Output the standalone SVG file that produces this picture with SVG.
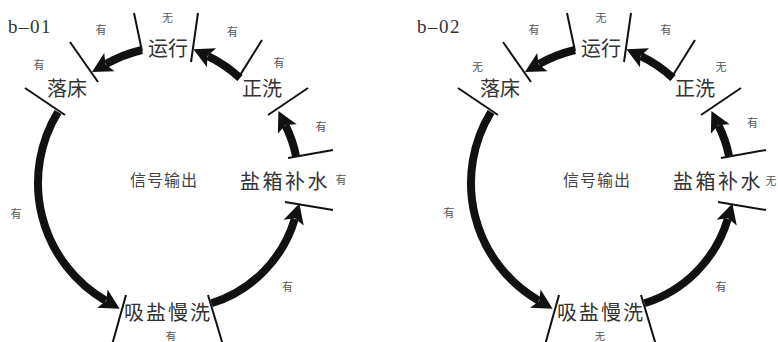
<svg xmlns="http://www.w3.org/2000/svg" width="778" height="342" viewBox="0 0 778 342">
<style>
.bg{fill:#ffffff}
.tick{stroke:#111;stroke-width:2;fill:none;stroke-linecap:butt}
.arc{stroke:#111;stroke-width:8;fill:none;marker-end:url(#ah)}
.node{font-family:"Noto Sans CJK SC","Noto Sans CJK TC",sans-serif;font-size:20px;fill:#333}
.center{font-family:"Noto Sans CJK SC",sans-serif;font-size:16px;fill:#444;letter-spacing:1px}
.sig{font-family:"Noto Sans CJK SC",sans-serif;font-size:11px;fill:#555;text-anchor:middle}
.sig.low{font-size:10.5px}
.title{font-family:"Liberation Serif",serif;font-size:19px;fill:#333;letter-spacing:1.5px}
</style>
<defs>
<marker id="ah" markerUnits="userSpaceOnUse" markerWidth="30" markerHeight="26" viewBox="0 -13 30 26" refX="4" refY="0" orient="auto" overflow="visible">
<path d="M0,-10.5 L20,0 L0,10.5 L4.5,0 Z" fill="#111"/>
</marker>
</defs>
<rect class="bg" x="0" y="0" width="778" height="342"/>

<!-- Diagram b-01 -->
<g id="diagram-b01">
<text class="title" x="8" y="33">b–01</text>
<g id="b01-luochuang">
<line class="tick" x1="25" y1="88" x2="65" y2="115"/>
<line class="tick" x1="70" y1="42" x2="98" y2="82"/>
<text class="node" x="47" y="96">落床</text>
</g>
<g id="b01-yunxing">
<line class="tick" x1="134" y1="13" x2="142" y2="51"/>
<line class="tick" x1="198" y1="13" x2="191" y2="62"/>
<text class="node" x="148" y="56">运行</text>
</g>
<g id="b01-zhengxi">
<line class="tick" x1="262" y1="40" x2="237" y2="80"/>
<line class="tick" x1="308" y1="88" x2="268" y2="115"/>
<text class="node" x="242" y="96">正洗</text>
</g>
<g id="b01-yanxiang">
<line class="tick" x1="333" y1="150" x2="288" y2="158"/>
<line class="tick" x1="285" y1="202" x2="333" y2="210"/>
<text class="node" x="240" y="189" style="letter-spacing:2.5px">盐箱补水</text>
</g>
<g id="b01-xiyan">
<line class="tick" x1="126" y1="295" x2="112" y2="345"/>
<line class="tick" x1="208" y1="295" x2="223" y2="345"/>
<text class="node" x="124" y="320" style="letter-spacing:2px">吸盐慢洗</text>
</g>
<g id="b01-signal">
<text class="center" x="130" y="186">信号输出</text>
</g>
<g id="b01-connectors">
<path class="arc" d="M142,50 A137,137 0 0 0 105.9,64.1"/>
<path class="arc" d="M240,78 A130,130 0 0 0 207.9,56.1"/>
<path class="arc" d="M296,156 A125.5,125.5 0 0 0 285.5,125.4"/>
<path class="arc" d="M211.5,303.3 A126,126 0 0 0 294.8,218.8"/>
<path class="arc" d="M58,112 A136,136 0 0 0 105.8,300.7"/>
</g>
<g id="b01-labels">
<text class="sig" x="101" y="34">有</text>
<text class="sig" x="167.5" y="22">无</text>
<text class="sig" x="232.5" y="36">有</text>
<text class="sig" x="279" y="67">有</text>
<text class="sig" x="321" y="131">有</text>
<text class="sig" x="341" y="184">有</text>
<text class="sig" x="39" y="69">有</text>
<text class="sig" x="16" y="218">有</text>
<text class="sig" x="287.5" y="291">有</text>
<text class="sig low" x="171" y="339.5">有</text>
</g>
</g>

<!-- Diagram b-02 -->
<g id="diagram-b02">
<text class="title" x="417" y="33">b–02</text>
<g transform="translate(433,0)">
<g id="b02-luochuang">
<line class="tick" x1="25" y1="88" x2="65" y2="115"/>
<line class="tick" x1="70" y1="42" x2="98" y2="82"/>
<text class="node" x="47" y="96">落床</text>
</g>
<g id="b02-yunxing">
<line class="tick" x1="134" y1="13" x2="142" y2="51"/>
<line class="tick" x1="198" y1="13" x2="191" y2="62"/>
<text class="node" x="148" y="56">运行</text>
</g>
<g id="b02-zhengxi">
<line class="tick" x1="262" y1="40" x2="237" y2="80"/>
<line class="tick" x1="308" y1="88" x2="268" y2="115"/>
<text class="node" x="242" y="96">正洗</text>
</g>
<g id="b02-yanxiang">
<line class="tick" x1="333" y1="150" x2="288" y2="158"/>
<line class="tick" x1="285" y1="202" x2="333" y2="210"/>
<text class="node" x="240" y="189" style="letter-spacing:2.5px">盐箱补水</text>
</g>
<g id="b02-xiyan">
<line class="tick" x1="126" y1="295" x2="112" y2="345"/>
<line class="tick" x1="208" y1="295" x2="223" y2="345"/>
<text class="node" x="124" y="320" style="letter-spacing:2px">吸盐慢洗</text>
</g>
<g id="b02-signal">
<text class="center" x="130" y="186">信号输出</text>
</g>
<g id="b02-connectors">
<path class="arc" d="M142,50 A137,137 0 0 0 105.9,64.1"/>
<path class="arc" d="M240,78 A130,130 0 0 0 207.9,56.1"/>
<path class="arc" d="M296,156 A125.5,125.5 0 0 0 285.5,125.4"/>
<path class="arc" d="M211.5,303.3 A126,126 0 0 0 294.8,218.8"/>
<path class="arc" d="M58,112 A136,136 0 0 0 105.8,300.7"/>
</g>
</g>
<g id="b02-labels">
<text class="sig" x="534" y="34">有</text>
<text class="sig" x="601" y="22">无</text>
<text class="sig" x="666" y="34">有</text>
<text class="sig" x="721" y="71">无</text>
<text class="sig" x="752.5" y="127">有</text>
<text class="sig" x="771" y="185">无</text>
<text class="sig" x="477.5" y="71">无</text>
<text class="sig" x="449" y="217">有</text>
<text class="sig" x="721" y="291">有</text>
<text class="sig low" x="600" y="339.5">无</text>
</g>
</g>
</svg>
